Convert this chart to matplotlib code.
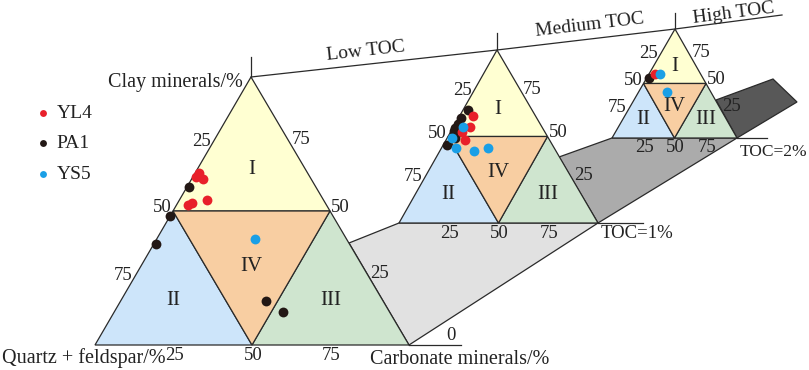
import numpy as np
import matplotlib
matplotlib.use("Agg")
import matplotlib.pyplot as plt
from matplotlib.patches import Polygon

plt.rcParams['font.family'] = ['Liberation Serif', 'DejaVu Serif']

# ternary data: clay minerals % and carbonate minerals % (quartz+feldspar = rest)
low_yl4_clay = [62.8, 64.1, 61.8, 52.2, 53.1, 54.1]
low_yl4_carb = [1.0, 1.3, 3.8, 3.6, 4.6, 8.8]
low_pa1_clay = [59.1, 48.2, 37.7, 16.5, 12.4]
low_pa1_carb = [0.5, 0.0, 0.6, 46.2, 53.8]
low_ys5_clay = [39.6]
low_ys5_carb = [31.2]

med_yl4_clay = [62.0, 55.7, 52.8, 48.0]
med_yl4_carb = [6.7, 8.4, 5.9, 9.5]
med_pa1_clay = [65.3, 60.9, 57.1, 55.1, 53.2, 49.3, 45.1]
med_pa1_carb = [2.7, 1.4, 1.3, 1.0, 1.2, 3.9, 1.8]
med_ys5_clay = [55.7, 49.3, 43.2, 41.8, 43.5]
med_ys5_carb = [4.5, 2.2, 7.4, 17.3, 23.1]

high_yl4_clay = [58.7]
high_yl4_carb = [5.0]
high_pa1_clay = [54.8]
high_pa1_carb = [1.6]
high_ys5_clay = [58.7, 42.5]
high_ys5_carb = [9.0, 22.5]

series_names = ['YL4', 'PA1', 'YS5']
series_colors = ['#e8202a', '#231815', '#1a9fe6']
tick_vals = [25, 50, 75]
region_names = ['I', 'II', 'III', 'IV']
region_colors = ['#ffffd2', '#cde5fa', '#cfe5cf', '#f8cea2']

# triangle corners (apex=clay, bottom-left=quartz+feldspar, bottom-right=carbonate), pixels
tris = {
    'low': ((251, 77), (95, 345), (409, 345)),
    'med': ((497, 50), (399, 223), (598, 223)),
    'high': ((675, 29), (612, 138), (737, 138)),
}

LC = '#2a2a2a'
TC = '#222222'


def tern(tri, clay, carb):
    a, b, c = [np.array(p, float) for p in tri]
    cl = np.asarray(clay, float) / 100
    ca = np.asarray(carb, float) / 100
    q = 1 - cl - ca
    x = cl * a[0] + q * b[0] + ca * c[0]
    y = cl * a[1] + q * b[1] + ca * c[1]
    return x, y


fig = plt.figure(figsize=(8.09, 3.70), dpi=100)
ax = fig.add_axes([0, 0, 1, 1])
ax.set_xlim(0, 809)
ax.set_ylim(370, 0)
ax.axis('off')

# prism faces between the triangles
ax.add_patch(Polygon([(349, 243), (399, 223), (598, 223), (409, 345)],
                     closed=True, fc='#e1e1e1', ec=LC, lw=0.9, zorder=1))
ax.add_patch(Polygon([(559, 157), (612, 138), (737, 138), (598, 223)],
                     closed=True, fc='#ababab', ec=LC, lw=0.9, zorder=1))
ax.add_patch(Polygon([(716, 100), (773, 79), (797, 102), (737, 138)],
                     closed=True, fc='#585858', ec=LC, lw=0.9, zorder=1))

# base lines extended
ax.plot([409, 461], [345, 345], color=LC, lw=0.9, zorder=2)
ax.plot([598, 643], [223, 223], color=LC, lw=0.9, zorder=2)
ax.plot([737, 767], [138, 138], color=LC, lw=0.9, zorder=2)

# TOC axis line with ticks above apexes
ax.plot([251, 497, 675, 782], [77, 50, 29, 15], color=LC, lw=0.9, zorder=2)
for (px, py), top in [((251, 77), 57), ((497, 50), 33), ((675, 29), 13)]:
    ax.plot([px, px], [py, top], color=LC, lw=0.9, zorder=2)

for key, tri in tris.items():
    A, B, C = tri
    H = B[1] - A[1]
    lm = tern(tri, 50, 0)
    rm = tern(tri, 50, 50)
    bm = tern(tri, 0, 50)
    regions = [[A, lm, rm], [B, lm, bm], [bm, rm, C], [lm, rm, bm]]
    for i, pts in enumerate(regions):
        ax.add_patch(Polygon(pts, closed=True, fc=region_colors[i], ec=LC,
                             lw=0.9, zorder=3))
        cx = np.mean([p[0] for p in pts])
        cy = np.mean([p[1] for p in pts])
        if region_names[i] == 'IV':
            cy += 0.04 * H
        if region_names[i] == 'I':
            cy += 0.01 * H
        ax.text(cx, cy, region_names[i], ha='center', va='center',
                fontsize=15, color=TC, zorder=6)
    for v in tick_vals:
        lx, ly = tern(tri, v, 0)
        ax.text(lx - 1, ly - 3, str(100 - v), ha='right', va='center',
                fontsize=13.5, color=TC, zorder=6)
        rx, ry = tern(tri, v, 100 - v)
        ax.text(rx + 1, ry - 4, str(v), ha='left', va='center',
                fontsize=13.5, color=TC, zorder=6)
        bx, by = tern(tri, 0, v)
        ax.text(bx + 1, by + 10, str(v), ha='center', va='center',
                fontsize=13.5, color=TC, zorder=6)

# data points
groups = [
    ('low', [low_yl4_clay, low_pa1_clay, low_ys5_clay], [low_yl4_carb, low_pa1_carb, low_ys5_carb]),
    ('med', [med_yl4_clay, med_pa1_clay, med_ys5_clay], [med_yl4_carb, med_pa1_carb, med_ys5_carb]),
    ('high', [high_yl4_clay, high_pa1_clay, high_ys5_clay], [high_yl4_carb, high_pa1_carb, high_ys5_carb]),
]
handles = []
for key, clays, carbs in groups:
    for j in [1, 0, 2]:
        x, y = tern(tris[key], clays[j], carbs[j])
        h = ax.scatter(x, y, s=50, color=series_colors[j], lw=0, zorder=8,
                       label=series_names[j])
        if key == 'low':
            handles.append((j, h))
handles = [h for j, h in sorted(handles, key=lambda t: t[0])]
ax.legend(handles=handles, loc='upper left', bbox_to_anchor=(36 / 809, 1 - 104 / 370),
          frameon=False, fontsize=14, markerscale=0.7, handlelength=0.7,
          handletextpad=0.35, labelspacing=0.67, borderpad=0, borderaxespad=0,
          labelcolor=TC)

# axis titles
ax.text(243, 83, 'Clay minerals/%', ha='right', va='center', fontsize=14.5, color=TC)
ax.text(2, 358, 'Quartz + feldspar/%', ha='left', va='center', fontsize=14.5, color=TC)
ax.text(370, 359, 'Carbonate minerals/%', ha='left', va='center', fontsize=14.5, color=TC)
ax.text(451, 335, '0', ha='center', va='center', fontsize=13.5, color=TC)
ax.text(601, 233, 'TOC=1%', ha='left', va='center', fontsize=13.5, color=TC)
ax.text(740, 152, 'TOC=2%', ha='left', va='center', fontsize=12.5, color=TC)

ax.text(366, 51, 'Low TOC', ha='center', va='center', rotation=6.3,
        rotation_mode='anchor', fontsize=14, color=TC)
ax.text(590, 25, 'Medium TOC', ha='center', va='center', rotation=6.7,
        rotation_mode='anchor', fontsize=14, color=TC)
ax.text(734, 13, 'High TOC', ha='center', va='center', rotation=7.3,
        rotation_mode='anchor', fontsize=14, color=TC)

plt.savefig('out.png', dpi=100)
